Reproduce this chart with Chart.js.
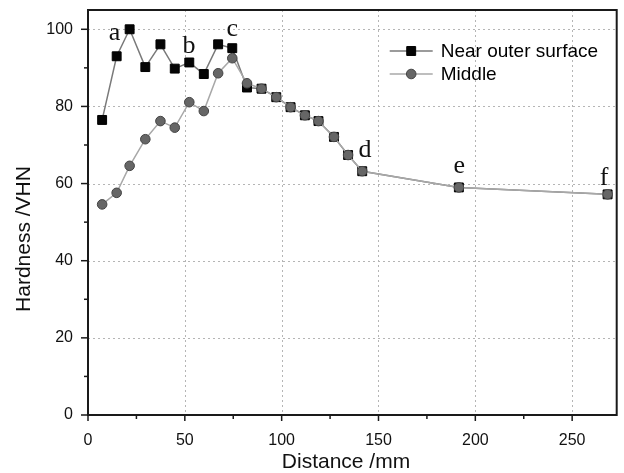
<!DOCTYPE html>
<html><head><meta charset="utf-8">
<script src="https://cdn.jsdelivr.net/npm/chart.js@4/dist/chart.umd.min.js"></script>
<style>html,body{margin:0;padding:0;background:#fff}#wrap{width:624px;height:473px}</style>
</head><body><div id="wrap"><canvas id="c" width="624" height="473"></canvas></div>
<script>
// Distance (mm) of each measurement point
const distances = [7.3, 14.8, 21.5, 29.6, 37.4, 44.8, 52.3, 59.8, 67.2, 74.5, 82.1, 89.6, 97.2, 104.6, 112.0, 119.0, 127.0, 134.3, 141.6, 191.5, 268.3];
// Hardness (VHN)
const nearOuter = [76.5, 93.0, 100.0, 90.2, 96.1, 89.8, 91.4, 88.4, 96.1, 95.1, 84.9, 84.6, 82.4, 79.8, 77.7, 76.2, 72.1, 67.4, 63.2, 59.0, 57.2];
const middle    = [54.6, 57.6, 64.6, 71.5, 76.2, 74.5, 81.1, 78.8, 88.6, 92.5, 86.0, 84.6, 82.4, 79.8, 77.7, 76.2, 72.1, 67.4, 63.2, 59.0, 57.2];
const seriesNames = ['Near outer surface', 'Middle'];
const xTicks = [0, 50, 100, 150, 200, 250];
const xMinorTicks = [25, 75, 125, 175, 225];
const yTicks = [0, 20, 40, 60, 80, 100];
const yMinorTicks = [10, 30, 50, 70, 90];
const pointLabels = ['a', 'b', 'c', 'd', 'e', 'f'];
const pointLabelX = [13.7, 52.2, 74.5, 143.0, 191.7, 266.5];
const pointLabelY = [97.3, 93.8, 98.2, 66.9, 62.8, 59.6];
const xTitle = 'Distance /mm';
const yTitle = 'Hardness /VHN';

const SANS = '"Liberation Sans", Arial, sans-serif';
const SERIF = '"Liberation Serif", "Times New Roman", serif';

const toXY = (vals) => vals.map((v, i) => ({x: distances[i], y: v}));

const decor = {
  id: 'decor',
  beforeDatasetsDraw(chart) {
    const {ctx, chartArea: a, scales: {x, y}} = chart;
    ctx.save();
    ctx.strokeStyle = '#b5b5b5';
    ctx.lineWidth = 1;
    ctx.setLineDash([2, 3]);
    xTicks.forEach(v => { if (v === 0) return; const px = Math.round(x.getPixelForValue(v)) + 0.5; ctx.beginPath(); ctx.moveTo(px, a.top); ctx.lineTo(px, a.bottom); ctx.stroke(); });
    yTicks.forEach(v => { if (v === 0) return; const py = Math.round(y.getPixelForValue(v)) + 0.5; ctx.beginPath(); ctx.moveTo(a.left, py); ctx.lineTo(a.right, py); ctx.stroke(); });
    ctx.restore();
  },
  afterDraw(chart) {
    const {ctx, chartArea: a, scales: {x, y}} = chart;
    ctx.save();
    // frame
    ctx.strokeStyle = '#1a1a1a';
    ctx.lineWidth = 2;
    ctx.strokeRect(a.left, a.top, a.right - a.left, a.bottom - a.top);
    // ticks
    ctx.lineWidth = 1.5;
    xTicks.forEach(v => { const px = x.getPixelForValue(v); ctx.beginPath(); ctx.moveTo(px, a.bottom); ctx.lineTo(px, a.bottom + 6); ctx.stroke(); });
    xMinorTicks.forEach(v => { const px = x.getPixelForValue(v); ctx.beginPath(); ctx.moveTo(px, a.bottom); ctx.lineTo(px, a.bottom + 4); ctx.stroke(); });
    yTicks.forEach(v => { const py = y.getPixelForValue(v); ctx.beginPath(); ctx.moveTo(a.left, py); ctx.lineTo(a.left - 7, py); ctx.stroke(); });
    yMinorTicks.forEach(v => { const py = y.getPixelForValue(v); ctx.beginPath(); ctx.moveTo(a.left, py); ctx.lineTo(a.left - 4, py); ctx.stroke(); });
    // point letters
    ctx.fillStyle = '#111';
    ctx.font = '26px ' + SERIF;
    ctx.textAlign = 'center';
    ctx.textBaseline = 'alphabetic';
    pointLabels.forEach((t, i) => ctx.fillText(t, x.getPixelForValue(pointLabelX[i]), y.getPixelForValue(pointLabelY[i])));
    // axis titles
    ctx.font = '21px ' + SANS;
    ctx.textBaseline = 'middle';
    ctx.fillText(xTitle, 346, 462);
    ctx.save();
    ctx.translate(24, 239);
    ctx.rotate(-Math.PI / 2);
    ctx.fillText(yTitle, 0, 0);
    ctx.restore();
    // legend
    const lx = a.right - 227, ly = a.top + 41, gap = 23;
    chart.data.datasets.forEach((ds, i) => {
      const yy = ly + i * gap;
      ctx.strokeStyle = ds.borderColor;
      ctx.lineWidth = ds.borderWidth;
      ctx.setLineDash([]);
      ctx.beginPath(); ctx.moveTo(lx, yy); ctx.lineTo(lx + 43, yy); ctx.stroke();
      ctx.fillStyle = ds.pointBackgroundColor;
      ctx.strokeStyle = ds.pointBorderColor;
      ctx.lineWidth = ds.pointBorderWidth;
      Chart.helpers.drawPoint(ctx, {pointStyle: ds.pointStyle, radius: ds.pointRadius, borderWidth: ds.pointBorderWidth, rotation: 0}, lx + 21.5, yy);
      ctx.fillStyle = '#000';
      ctx.font = '19px ' + SANS;
      ctx.textAlign = 'left';
      ctx.fillText(seriesNames[i], lx + 51, yy + 1);
    });
    ctx.restore();
  }
};

new Chart(document.getElementById('c'), {
  type: 'line',
  data: {
    datasets: [
      {
        label: seriesNames[0], data: toXY(nearOuter), order: 1,
        borderColor: '#7a7a7a', borderWidth: 1.5,
        pointStyle: 'rect', pointRadius: 6.3, pointHoverRadius: 6.3,
        pointBackgroundColor: '#050505', pointBorderColor: '#000', pointBorderWidth: 1,
        backgroundColor: '#050505'
      },
      {
        label: seriesNames[1], data: toXY(middle), order: 0,
        borderColor: '#a8a8a8', borderWidth: 1.5,
        pointStyle: 'circle', pointRadius: 4.8, pointHoverRadius: 4.8,
        pointBackgroundColor: '#666', pointBorderColor: '#444', pointBorderWidth: 1,
        backgroundColor: '#666'
      }
    ]
  },
  options: {
    responsive: false,
    animation: false,
    events: [],
    layout: {padding: {top: 10, right: 3, left: 0, bottom: 0}},
    plugins: {legend: {display: false}, tooltip: {enabled: false}},
    scales: {
      x: {
        type: 'linear', min: 0, max: 273,
        grid: {display: false, drawTicks: false},
        border: {display: false},
        ticks: {stepSize: 50, includeBounds: false, padding: 16, color: '#111', font: {family: SANS, size: 16}, maxRotation: 0},
        afterFit(s) { s.height = 58; s.paddingLeft = 0; s.paddingRight = 0; }
      },
      y: {
        type: 'linear', min: 0, max: 105,
        grid: {display: false, drawTicks: false},
        border: {display: false},
        ticks: {stepSize: 20, includeBounds: false, padding: 15, color: '#111', font: {family: SANS, size: 16}},
        afterFit(s) { s.width = 88; s.paddingTop = 0; s.paddingBottom = 0; }
      }
    }
  },
  plugins: [decor]
});
</script>
</body></html>
